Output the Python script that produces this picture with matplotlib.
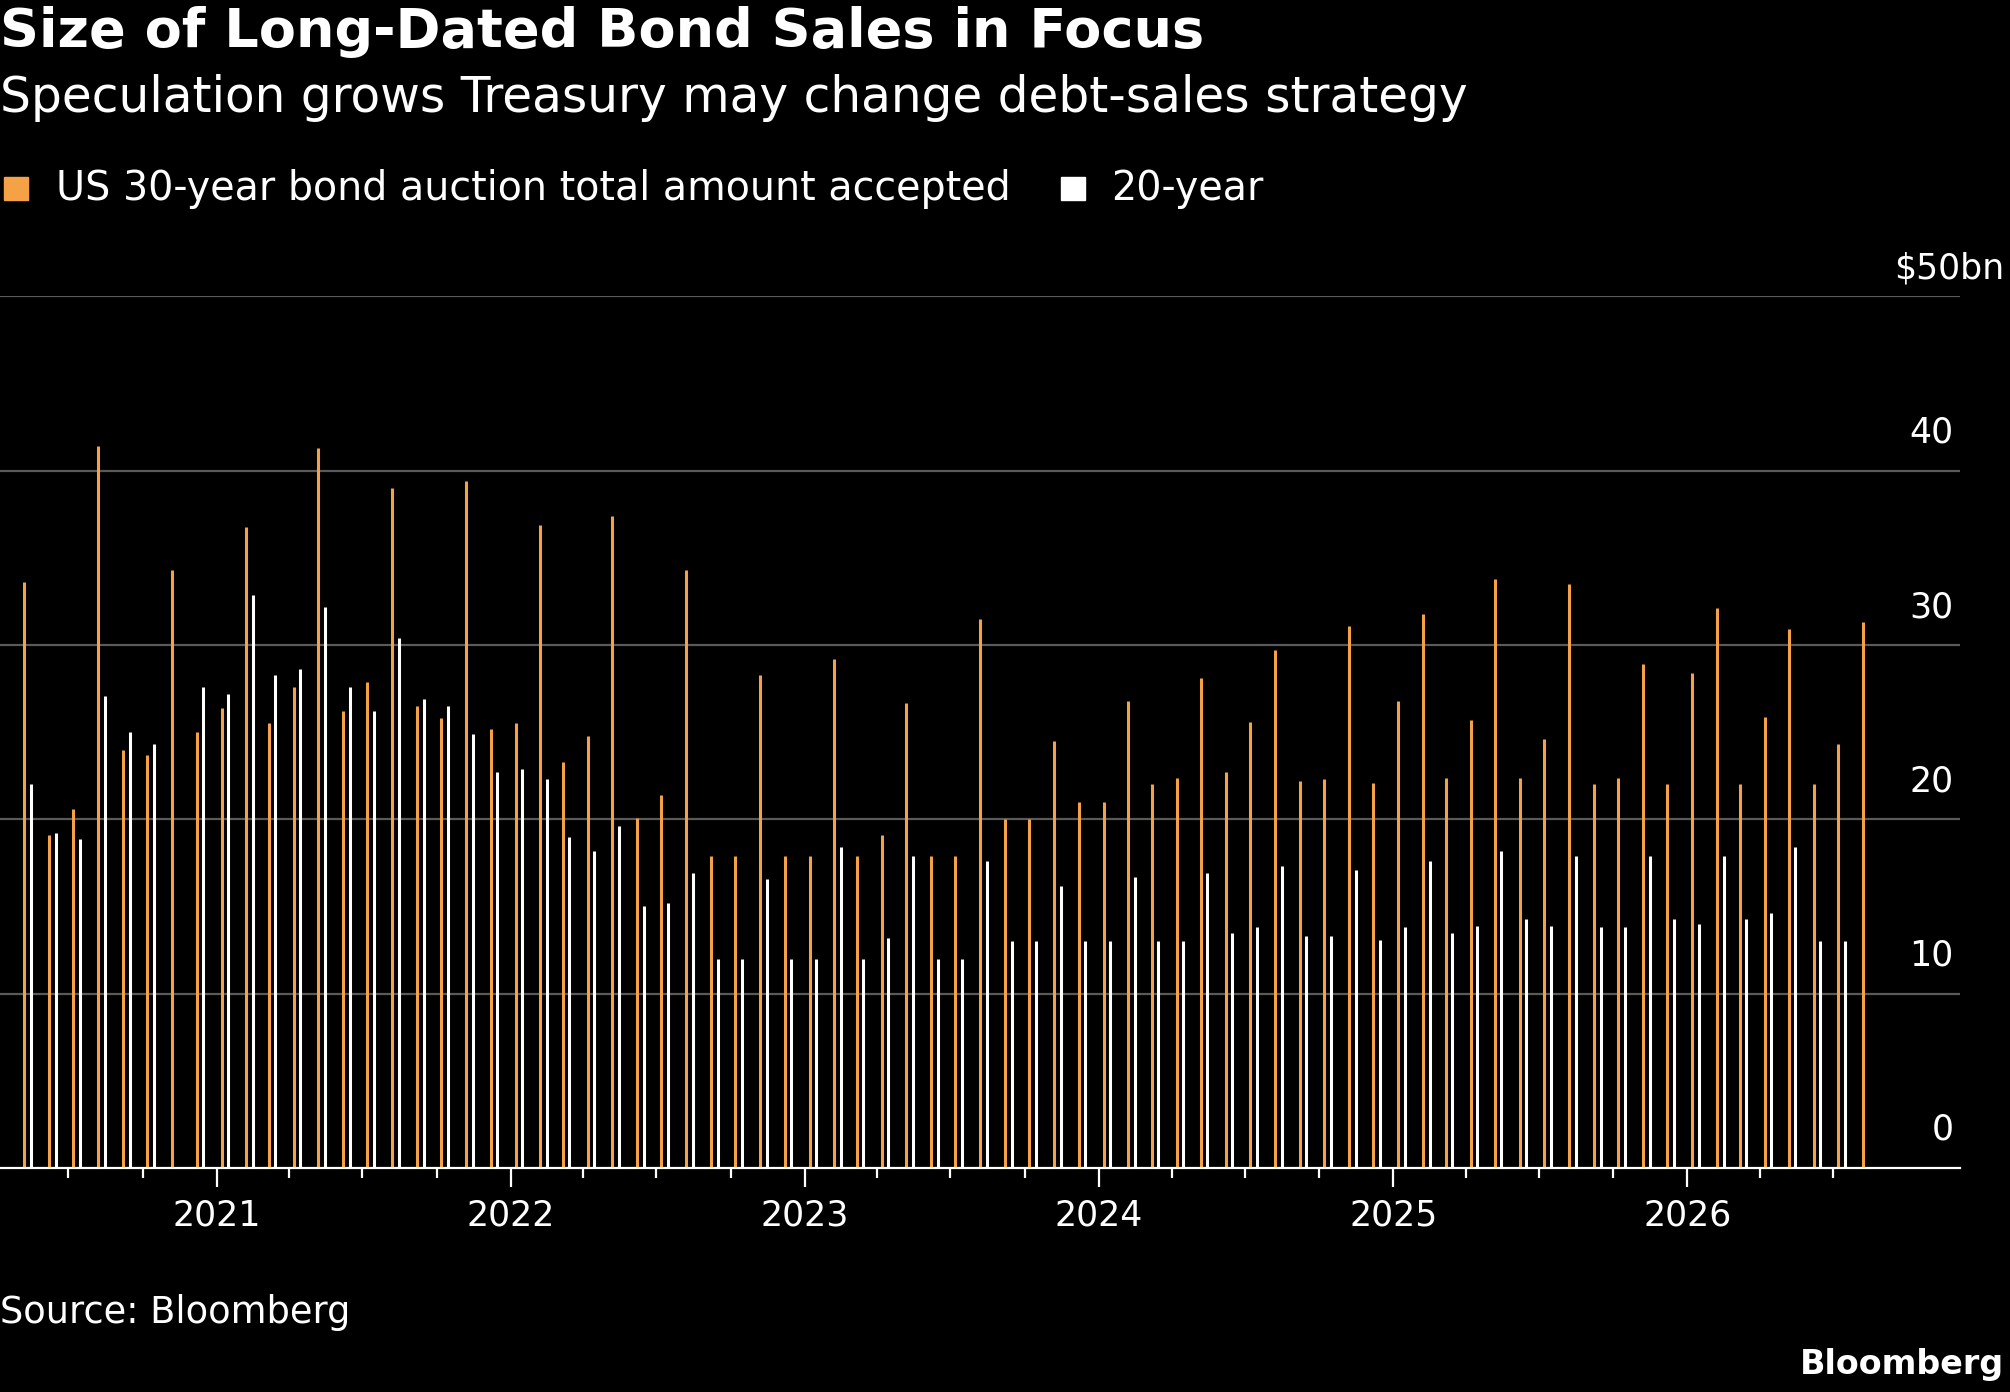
import numpy as np
import pandas as pd
import matplotlib.pyplot as plt
import matplotlib.dates as mdates

# 30-year bond, monthly from May 2020 to Aug 2026 ($bn)
bond30 = [33.6, 19.1, 20.6, 41.4, 24.0, 23.7, 34.3, 25.0, 26.4, 36.8,
          25.5, 27.6, 41.3, 26.2, 27.9, 39.0, 26.5, 25.8, 39.4, 25.2,
          25.5, 36.9, 23.3, 24.8, 37.4, 20.1, 21.4, 34.3, 17.9, 17.9,
          28.3, 17.9, 17.9, 29.2, 17.9, 19.1, 26.7, 17.9, 17.9, 31.5,
          20.0, 20.0, 24.5, 21.0, 21.0, 26.8, 22.0, 22.4, 28.1, 22.7,
          25.6, 29.7, 22.2, 22.3, 31.1, 22.1, 26.8, 31.8, 22.4, 25.7,
          33.8, 22.4, 24.6, 33.5, 22.0, 22.4, 28.9, 22.0, 28.4, 32.1,
          22.0, 25.9, 30.9, 22.0, 24.3, 31.3]
# 20-year bond, monthly from May 2020 to Jul 2026 ($bn); Nov 2020 not visible
bond20 = [22.0, 19.2, 18.9, 27.1, 25.0, 24.3, np.nan, 27.6, 27.2, 32.9,
          28.3, 28.6, 32.2, 27.6, 26.2, 30.4, 26.9, 26.5, 24.9, 22.7,
          22.9, 22.3, 19.0, 18.2, 19.6, 15.0, 15.2, 16.9, 12.0, 12.0,
          16.6, 12.0, 12.0, 18.4, 12.0, 13.2, 17.9, 12.0, 12.0, 17.6,
          13.0, 13.0, 16.2, 13.0, 13.0, 16.7, 13.0, 13.0, 16.9, 13.5,
          13.8, 17.3, 13.3, 13.3, 17.1, 13.1, 13.8, 17.6, 13.5, 13.9,
          18.2, 14.3, 13.9, 17.9, 13.8, 13.8, 17.9, 14.3, 14.0, 17.9,
          14.3, 14.6, 18.4, 13.0, 13.0]

dates30 = pd.date_range("2020-05-01", periods=len(bond30), freq="MS") + pd.Timedelta(days=6)
dates20 = pd.date_range("2020-05-01", periods=len(bond20), freq="MS") + pd.Timedelta(days=14)

orange = "#f5a145"
plt.rcParams["font.family"] = ["DejaVu Sans"]
fig = plt.figure(figsize=(20.1, 13.92), dpi=100, facecolor="black")
ax = fig.add_axes([0.0, 0.161, 0.975, 0.626])
ax.set_facecolor("black")

for y in [10, 20, 30, 40, 50]:
    ax.axhline(y, color="#5a5a5a", lw=1.6, zorder=0)
ax.vlines(dates30, 0, bond30, color=orange, lw=2.2, zorder=2)
ax.vlines(dates20, 0, bond20, color="white", lw=2.2, zorder=2)

ax.set_xlim(pd.Timestamp("2020-04-07"), pd.Timestamp("2026-12-05"))
ax.set_ylim(0, 50)
ax.set_yticks([])
for s in ["top", "left", "right"]:
    ax.spines[s].set_visible(False)
ax.spines["bottom"].set_color("white")
ax.spines["bottom"].set_linewidth(1.6)
ax.xaxis.set_major_locator(mdates.YearLocator())
ax.xaxis.set_major_formatter(mdates.DateFormatter("%Y"))
minor = [d for d in pd.date_range("2020-07-01", "2026-07-01", freq="QS-JAN") if d.month != 1]
ax.xaxis.set_minor_locator(plt.FixedLocator(mdates.date2num(minor)))
ax.tick_params(axis="x", which="major", colors="white", labelsize=25, length=14, width=1.6, pad=8)
ax.tick_params(axis="x", which="minor", colors="white", length=7, width=1.6)

for y in [0, 10, 20, 30, 40]:
    ax.text(0.997, y + 1.2, str(y), transform=ax.get_yaxis_transform(),
            ha="right", va="bottom", color="white", fontsize=25)
fig.text(0.997, 0.787 + 0.008, "$50bn", ha="right", va="bottom", color="white", fontsize=25)

fig.text(0.0, 0.958, "Size of Long-Dated Bond Sales in Focus", color="white",
         fontsize=39, fontweight="bold", va="bottom")
fig.text(0.0, 0.912, "Speculation grows Treasury may change debt-sales strategy",
         color="white", fontsize=35, va="bottom")
fig.add_artist(plt.Rectangle((0.002, 0.856), 0.012, 0.017, color=orange, transform=fig.transFigure))
fig.text(0.028, 0.864, "US 30-year bond auction total amount accepted", color="white",
         fontsize=28.5, va="center")
fig.add_artist(plt.Rectangle((0.528, 0.856), 0.012, 0.017, color="white", transform=fig.transFigure))
fig.text(0.553, 0.864, "20-year", color="white", fontsize=28.5, va="center")
fig.text(0.0, 0.057, "Source: Bloomberg", color="white", fontsize=26.5, va="center")
fig.text(0.997, 0.02, "Bloomberg", color="white", fontsize=24, fontweight="bold",
         ha="right", va="center")

fig.savefig("out.png", dpi=100, facecolor="black")
